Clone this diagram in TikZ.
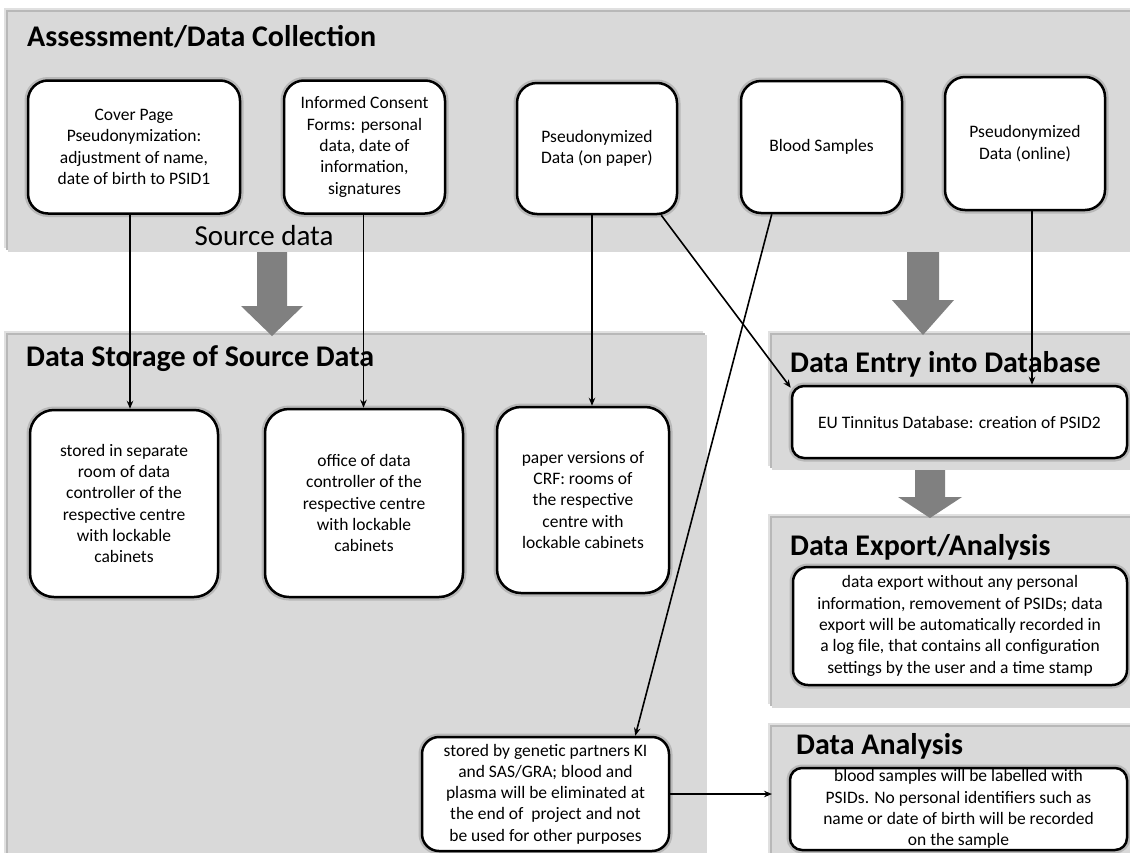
\documentclass[tikz,border=0pt]{standalone}
\usepackage{fontspec}
\setmainfont{Carlito}
\usetikzlibrary{arrows.meta,shadows}
\definecolor{panelgray}{HTML}{D9D9D9}
\definecolor{arrowgray}{HTML}{808080}
\newcommand\bxfont{\fontsize{17.5pt}{21.3pt}\selectfont}
\newcommand\ttlfont{\fontsize{30pt}{36pt}\selectfont\bfseries}
\begin{document}
\begin{tikzpicture}[x=1pt,y=-1pt,
  panel/.style={fill=panelgray, draw=none, inner sep=0, outer sep=0, anchor=north west,
    general shadow={fill=black!12, shadow xshift=-4pt, shadow yshift=4pt},
    general shadow={fill=black!28, shadow xshift=-2pt, shadow yshift=2pt}},
  box/.style={draw=black, line width=2.5pt, fill=white, rounded corners=20pt,
    align=center, inner sep=0, font=\bxfont,
    preaction={draw=black, opacity=0.15, line width=7pt}},
  ttl/.style={anchor=base west, inner sep=0, font=\ttlfont},
  conn/.style={draw=black, line width=1.6pt, -{Stealth[length=8pt,width=6.5pt]}},
  bigarrow/.style={fill=arrowgray, draw=none}
]
\clip (0,0) rectangle (1130,852);
\useasboundingbox (0,0) rectangle (1130,852);
\fill[white] (0,0) rectangle (1130,852);

% panels
\node[panel, minimum width=1127pt, minimum height=240pt] (pTop) at (8,12) {};
\node[panel, minimum width=699pt, minimum height=525pt] (pSto) at (8,335) {};
\node[panel, minimum width=363pt, minimum height=135pt] (pDE) at (772,335) {};
\node[panel, minimum width=363pt, minimum height=190pt] (pEx) at (772,518) {};
\node[panel, minimum width=363pt, minimum height=133pt] (pAna) at (772,727) {};

% titles
\node[ttl] (tTop) at (27,46) {Assessment/Data Collection};
\node[ttl] (tSto) at (26,366) {Data Storage of Source Data};
\node[ttl] (tDE) at (790,372) {Data Entry into Database};
\node[ttl] (tEx) at (790,555) {Data Export/Analysis};
\node[ttl] (tAna) at (796,754) {Data Analysis};
\node[anchor=base, inner sep=0, font=\fontsize{29pt}{34pt}\selectfont] (src) at (264,245) {Source data};

% big gray arrows
\fill[bigarrow] (257,252) -- (287,252) -- (287,306) -- (303,306) -- (272,336) -- (241,306) -- (257,306) -- cycle;
\fill[bigarrow] (907,252) -- (939,252) -- (939,300) -- (954,300) -- (923,335) -- (892,300) -- (907,300) -- cycle;
\fill[bigarrow] (915,470) -- (945,470) -- (945,497) -- (962,497) -- (930,518) -- (898,497) -- (915,497) -- cycle;

% top boxes
\node[box, minimum width=212pt, minimum height=133pt] (b1) at (134,147)
  {Cover Page\\Pseudonymization:\\adjustment of name,\\date of birth to PSID1};
\node[box, minimum width=161pt, minimum height=133pt] (b2) at (364.5,147)
  {Informed Consent\\Forms: personal\\data, date of\\information,\\signatures};
\node[box, minimum width=160pt, minimum height=131pt] (b3) at (597,148.5)
  {Pseudonymized\\Data (on paper)};
\node[box, minimum width=161pt, minimum height=132pt] (b4) at (821.5,147)
  {Blood Samples};
\node[box, minimum width=160pt, minimum height=133pt] (b5) at (1025,143.5)
  {Pseudonymized\\Data (online)};

% storage boxes
\node[box, rounded corners=24pt, minimum width=188pt, minimum height=187pt] (s1) at (124,503.5)
  {stored in separate\\room of data\\controller of the\\respective centre\\with lockable\\cabinets};
\node[box, rounded corners=24pt, minimum width=198pt, minimum height=188pt] (s2) at (364,503)
  {office of data\\controller of the\\respective centre\\with lockable\\cabinets};
\node[box, rounded corners=24pt, minimum width=172pt, minimum height=186pt] (s3) at (583,500)
  {paper versions of\\CRF: rooms of\\the respective\\centre with\\lockable cabinets};
\node[box, rounded corners=17pt, minimum width=247pt, minimum height=114pt] (s4) at (545.5,794)
  {stored by genetic partners KI\\and SAS/GRA; blood and\\plasma will be eliminated at\\the end of\ \ project and not\\be used for other purposes};

% right boxes
\node[box, rounded corners=12pt, minimum width=335pt, minimum height=72pt] (de) at (959.5,422)
  {EU Tinnitus Database: creation of PSID2};
\node[box, rounded corners=15pt, minimum width=334pt, minimum height=118pt] (ex) at (960,626)
  {data export without any personal\\information, removement of PSIDs; data\\export will be automatically recorded in\\a log file, that contains all configuration\\settings by the user and a time stamp};
\node[box, rounded corners=12pt, minimum width=337pt, minimum height=82pt] (ana) at (958.5,809)
  {blood samples will be labelled with\\PSIDs. No personal identifiers such as\\name or date of birth will be recorded\\on the sample};

% connectors
\draw[conn] ([xshift=-4pt]b1.south) -- ([xshift=-4pt]b1.south |- s1.north);
\draw[conn] ([xshift=-1pt]b2.south) -- ([xshift=-1pt]b2.south |- s2.north);
\draw[conn] ([xshift=-5pt]b3.south) -- ([xshift=-5pt]b3.south |- s3.north);
\draw[conn] ([xshift=-17pt]b3.south east) -- ([yshift=-3pt]de.north west);
\draw[conn] ([xshift=32pt]b4.south west) -- ([xshift=-35pt]s4.north east);
\draw[conn] ([xshift=7pt]b5.south) -- ([xshift=7pt]b5.south |- de.north);
\draw[conn] (s4.east) -- (s4.east -| pAna.west);
\end{tikzpicture}
\end{document}
